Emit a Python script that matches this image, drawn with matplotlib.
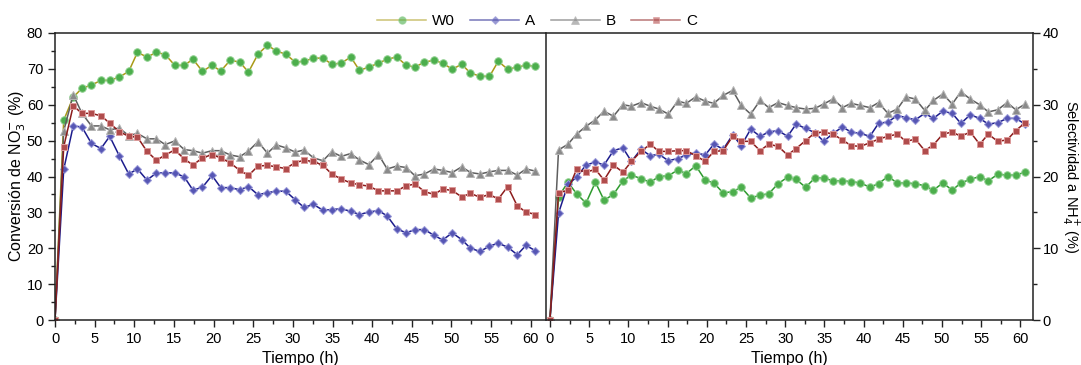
import matplotlib
matplotlib.use("Agg")
from matplotlib import pyplot as plt
from matplotlib.ticker import MultipleLocator

plt.rcParams['font.family'] = ['Liberation Sans', 'DejaVu Sans']

# tiempo de reaccion (h)
t = [0, 1.1, 2.3, 3.4, 4.6, 5.8, 6.9, 8.1, 9.3, 10.4, 11.6, 12.8, 13.9, 15.1, 16.3,
     17.4, 18.6, 19.8, 20.9, 22.1, 23.3, 24.4, 25.6, 26.8, 27.9, 29.1, 30.3, 31.4,
     32.6, 33.8, 34.9, 36.1, 37.3, 38.4, 39.6, 40.8, 41.9, 43.1, 44.3, 45.4, 46.6,
     47.8, 48.9, 50.1, 51.3, 52.4, 53.6, 54.8, 55.9, 57.1, 58.3, 59.4, 60.6]

# conversion de nitrato (%)
w0_conv = [0, 55.7, 62.1, 64.6, 65.5, 66.8, 66.8, 67.7, 69.3, 74.6, 73.3, 74.6, 74.0,
           71.0, 71.0, 72.7, 69.3, 71.0, 69.4, 72.4, 71.9, 69.1, 74.1, 76.6, 75.0, 74.1,
           71.9, 72.1, 73.0, 73.0, 71.3, 71.6, 73.3, 69.6, 70.5, 71.6, 72.7, 73.3, 71.0,
           70.5, 71.9, 72.4, 71.6, 69.9, 71.3, 68.8, 68.0, 67.9, 72.1, 69.9, 70.5, 71.0, 70.7]
a_conv = [0, 42.0, 54.1, 53.8, 49.2, 47.8, 51.2, 45.8, 40.7, 42.1, 39.0, 41.0, 41.0,
          41.0, 39.9, 36.2, 37.0, 40.3, 36.9, 36.9, 36.3, 37.2, 34.9, 35.5, 35.9, 35.9,
          33.5, 31.4, 32.2, 30.6, 30.8, 31.0, 30.3, 29.4, 30.1, 30.5, 29.0, 25.4, 24.3,
          25.2, 25.2, 23.6, 22.3, 24.3, 22.4, 20.0, 19.1, 20.6, 21.4, 20.3, 18.2, 20.8, 19.3]
b_conv = [0, 52.7, 62.8, 57.6, 54.1, 54.1, 53.0, 53.5, 51.4, 52.0, 50.5, 50.5, 48.9,
          49.9, 47.5, 47.2, 46.5, 47.2, 47.2, 46.0, 45.5, 47.1, 49.7, 46.5, 48.8, 48.0,
          46.8, 47.4, 45.2, 44.4, 46.9, 45.6, 46.4, 44.6, 43.3, 46.1, 42.1, 42.9, 42.5,
          40.2, 40.7, 42.1, 41.7, 41.1, 42.7, 41.1, 40.7, 41.3, 41.7, 41.7, 40.4, 42.1, 41.5]
c_conv = [0, 48.3, 59.7, 57.6, 57.6, 56.9, 54.9, 52.5, 51.2, 51.0, 47.0, 44.5, 46.0,
          47.4, 44.9, 43.2, 45.2, 46.1, 45.2, 43.8, 41.7, 40.3, 42.9, 43.1, 42.7, 42.2,
          43.9, 44.5, 44.2, 43.1, 40.7, 39.3, 38.2, 37.7, 37.3, 36.0, 36.0, 36.0, 37.4,
          37.9, 35.8, 35.0, 36.5, 36.1, 34.3, 35.3, 34.2, 35.0, 33.7, 37.2, 31.8, 30.1, 29.4]

# selectividad a amonio (%)
w0_sel = [0, 17.2, 19.2, 17.6, 16.3, 19.2, 16.7, 17.5, 19.4, 20.2, 19.7, 19.2, 20.0,
          20.1, 20.9, 20.4, 21.5, 19.5, 19.1, 17.7, 17.9, 18.5, 17.0, 17.4, 17.6, 19.0,
          19.9, 19.6, 18.5, 19.8, 19.8, 19.4, 19.4, 19.3, 19.1, 18.5, 19.0, 20.0, 19.1,
          19.1, 19.0, 18.7, 18.1, 19.1, 18.1, 19.1, 19.6, 20.0, 19.4, 20.3, 20.2, 20.2, 20.6]
a_sel = [0, 14.9, 18.9, 19.9, 21.6, 22.0, 21.6, 23.6, 24.0, 22.1, 23.8, 22.9, 23.1,
         22.2, 22.5, 23.0, 23.3, 23.0, 24.5, 23.8, 25.8, 24.3, 26.6, 25.6, 26.2, 26.4,
         25.6, 27.3, 26.7, 26.1, 24.9, 26.0, 26.9, 26.2, 26.0, 25.6, 27.4, 27.6, 28.5,
         28.2, 27.9, 28.8, 28.1, 29.1, 28.8, 27.4, 28.6, 28.1, 27.3, 27.5, 28.1, 28.1, 27.3]
b_sel = [0, 23.7, 24.5, 25.9, 27.0, 27.9, 29.1, 28.4, 30.0, 29.8, 30.3, 29.8, 29.4,
         28.7, 30.5, 30.2, 31.1, 30.5, 30.2, 31.3, 32.0, 29.9, 28.7, 30.6, 29.6, 30.3,
         29.9, 29.6, 29.4, 29.5, 30.1, 30.8, 29.6, 30.2, 29.9, 29.6, 30.3, 28.8, 29.4,
         31.1, 30.8, 29.2, 30.6, 31.5, 30.1, 31.8, 30.8, 30.0, 29.0, 29.3, 30.3, 29.3, 30.1]
c_sel = [0, 17.7, 18.1, 21.0, 20.6, 21.0, 19.5, 21.6, 20.6, 22.1, 23.5, 24.5, 23.5,
         23.5, 23.6, 23.6, 22.9, 22.1, 23.5, 23.6, 25.6, 24.9, 24.9, 23.6, 24.5, 24.2,
         23.0, 23.9, 25.0, 26.1, 26.2, 25.9, 25.1, 24.3, 24.2, 24.7, 25.2, 25.6, 25.9,
         24.9, 25.2, 23.6, 24.4, 25.9, 26.2, 25.6, 26.2, 24.5, 25.9, 24.9, 25.1, 26.4, 27.5]

labels = ["W0", "A", "B", "C"]
lcol_left = ["#a99a16", "#1c1c8c", "#5e5e5e", "#8c1c1c"]
lcol_right = ["#2e9a2e", "#1c1c8c", "#5e5e5e", "#8c1c1c"]
mface = ["#4cae4c", "#5656b4", "#8a8a8a", "#b04c4c"]
medge = ["#8fd08f", "#9a9ad8", "#b4b4b4", "#dc9a9a"]
mark = ["o", "D", "^", "s"]
msize = [5.4, 4.4, 5.8, 4.8]

fig = plt.figure(figsize=(10.81, 3.65), dpi=100)
ax1 = fig.add_axes([55/1081, 45/365, 490/1081, 287/365])
ax2 = fig.add_axes([546/1081, 45/365, 487/1081, 287/365])

conv = [w0_conv, a_conv, b_conv, c_conv]
sel = [w0_sel, a_sel, b_sel, c_sel]

for i in range(4):
    ax1.plot(t, conv[i], color=lcol_left[i], lw=1.1, marker=mark[i], ms=msize[i],
             mfc=mface[i], mec=medge[i], mew=0.7, label=labels[i])
    ax2.plot(t, sel[i], color=lcol_right[i], lw=1.1, marker=mark[i], ms=msize[i],
             mfc=mface[i], mec=medge[i], mew=0.7)

ax1.set_xlim(0, 61.8)
ax1.set_ylim(0, 80)
ax2.set_xlim(-0.5, 61.6)
ax2.set_ylim(0, 40)

for ax in [ax1, ax2]:
    ax.xaxis.set_major_locator(MultipleLocator(5))
    ax.xaxis.set_minor_locator(MultipleLocator(2.5))
    ax.yaxis.set_minor_locator(MultipleLocator(5))
    ax.yaxis.set_major_locator(MultipleLocator(10))
    ax.tick_params(which="major", direction="out", length=5, width=1, labelsize=10.5, color="#222222")
    ax.tick_params(which="minor", direction="out", length=3, width=1, color="#222222")
    for s in ax.spines.values():
        s.set_linewidth(1.1)
        s.set_color("#222222")
    ax.set_xlabel("Tiempo (h)", fontsize=11.5, labelpad=4)

ax1.spines["right"].set_visible(False)
ax2.yaxis.tick_right()
ax2.tick_params(axis="y", which="both", left=False, right=True)
ax2.tick_params(axis="y", which="major", pad=2)

ax1.set_ylabel("Conversión de NO$_3^{-}$ (%)", fontsize=11.5, labelpad=-1)
ax2.set_ylabel("Selectividad a NH$_4^{+}$ (%)", fontsize=10.5, rotation=270,
               va="center", ha="center")
ax2.yaxis.set_label_coords(1.077, 0.5)

leg = fig.legend(loc="center", bbox_to_anchor=(0.497, 0.942), ncol=4, frameon=False,
                 fontsize=11, handlelength=3.2, columnspacing=1.0, handletextpad=0.4)
for h in leg.legend_handles:
    h.set_alpha(0.6)

plt.savefig("out.png", dpi=100)
